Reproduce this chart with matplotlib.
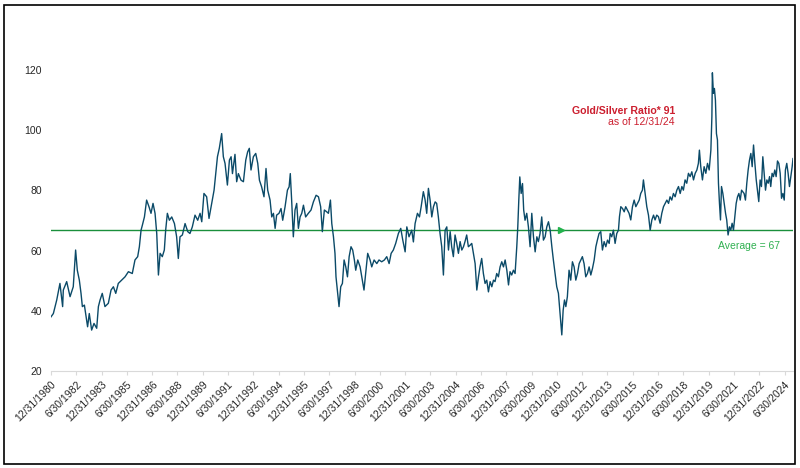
import matplotlib
matplotlib.use("Agg")
import matplotlib.pyplot as plt
import numpy as np
import pandas as pd
from matplotlib.patches import Rectangle

# ---- data (decimal year, gold/silver ratio) ----
years_1980s = [1981.00, 1981.14, 1981.34, 1981.53, 1981.69, 1981.73, 1981.93, 1982.13, 1982.32, 1982.46,
               1982.56, 1982.68, 1982.78, 1982.86, 1982.98, 1983.08, 1983.17, 1983.27, 1983.41, 1983.55,
               1983.71, 1983.81, 1983.91, 1984.04, 1984.20, 1984.40, 1984.56, 1984.70, 1984.84, 1984.99,
               1985.19, 1985.39, 1985.59, 1985.82, 1985.98, 1986.14, 1986.24, 1986.34, 1986.42, 1986.54,
               1986.67, 1986.81, 1986.93, 1987.05, 1987.17, 1987.27, 1987.37, 1987.47, 1987.60, 1987.72,
               1987.80, 1987.90, 1988.02, 1988.16, 1988.32, 1988.45, 1988.55, 1988.65, 1988.79, 1988.95,
               1989.11, 1989.24, 1989.38, 1989.54, 1989.70, 1989.84, 1989.94, 1990.07, 1990.23, 1990.37,
               1990.53, 1990.67, 1990.77, 1990.87, 1990.98, 1991.12, 1991.22, 1991.32, 1991.46, 1991.58,
               1991.68, 1991.76]
ratio_1980s = [38.0, 39.1, 43.6, 49.1, 41.4, 46.9, 49.7, 44.7, 48.0, 60.2,
               53.5, 50.2, 45.8, 41.4, 41.9, 38.0, 34.7, 39.1, 33.6, 35.8,
               34.2, 41.4, 43.6, 45.8, 41.4, 42.5, 46.9, 48.0, 45.8, 49.1,
               50.2, 51.3, 53.0, 52.4, 56.9, 58.0, 61.3, 66.8, 68.5, 71.2,
               76.8, 74.6, 72.4, 75.7, 72.4, 65.7, 51.9, 59.1, 58.0, 60.2,
               66.8, 72.4, 70.1, 71.2, 69.0, 64.6, 57.4, 64.6, 65.2, 69.0,
               66.3, 65.7, 67.9, 71.8, 70.1, 72.4, 69.6, 79.0, 77.9, 70.7,
               75.7, 80.1, 85.6, 91.2, 94.0, 98.9, 91.2, 89.0, 81.8, 90.1,
               91.2, 85.6]

years_1990s = [1991.91, 1992.01, 1992.11, 1992.27, 1992.41, 1992.55, 1992.66, 1992.76, 1992.86, 1993.00,
               1993.14, 1993.26, 1993.36, 1993.49, 1993.63, 1993.75, 1993.85, 1993.99, 1994.09, 1994.19,
               1994.29, 1994.38, 1994.52, 1994.64, 1994.74, 1994.88, 1995.02, 1995.12, 1995.19, 1995.27,
               1995.37, 1995.47, 1995.57, 1995.67, 1995.77, 1995.87, 1995.97, 1996.10, 1996.26, 1996.42,
               1996.56, 1996.72, 1996.86, 1996.99, 1997.09, 1997.21, 1997.35, 1997.45, 1997.57, 1997.65,
               1997.75, 1997.84, 1997.90, 1997.98, 1998.08, 1998.18, 1998.28, 1998.38, 1998.48, 1998.58,
               1998.68, 1998.79, 1998.89, 1998.99, 1999.07, 1999.19, 1999.33, 1999.43, 1999.56, 1999.66,
               1999.78, 1999.92, 2000.02, 2000.16, 2000.32, 2000.45, 2000.61, 2000.77, 2000.91, 2001.05,
               2001.17, 2001.30, 2001.44, 2001.60, 2001.74, 2001.86, 2002.00, 2002.10, 2002.23, 2002.39,
               2002.49, 2002.59, 2002.73, 2002.85, 2002.95, 2003.08]
ratio_1990s = [92.0, 82.9, 85.6, 83.4, 82.9, 90.1, 92.8, 94.0, 86.8, 91.2,
               92.3, 89.0, 83.4, 81.2, 77.9, 87.3, 80.1, 76.8, 71.2, 72.4,
               67.4, 71.8, 72.4, 74.0, 70.1, 74.6, 80.1, 81.2, 85.6, 76.8,
               64.6, 73.5, 75.7, 67.4, 71.2, 72.4, 75.1, 71.2, 72.4, 73.5,
               76.2, 78.4, 77.9, 74.6, 66.3, 73.5, 72.9, 72.4, 76.8, 69.0,
               64.6, 59.1, 51.3, 46.9, 41.4, 48.0, 49.1, 56.9, 54.6, 51.3,
               58.0, 61.3, 60.2, 56.9, 53.5, 56.9, 54.6, 51.3, 46.9, 52.4,
               59.1, 56.9, 54.6, 56.9, 55.7, 56.9, 56.3, 56.9, 58.0, 55.7,
               59.1, 60.2, 62.4, 65.7, 67.4, 63.5, 59.6, 67.9, 64.6, 66.8,
               62.9, 69.0, 72.4, 71.2, 74.6, 79.6]

years_2000s = [2003.18, 2003.28, 2003.38, 2003.48, 2003.58, 2003.68, 2003.78, 2003.87, 2003.97, 2004.07,
               2004.17, 2004.27, 2004.37, 2004.47, 2004.57, 2004.67, 2004.76, 2004.86, 2004.96, 2005.06,
               2005.16, 2005.26, 2005.36, 2005.46, 2005.55, 2005.65, 2005.75, 2005.85, 2005.95, 2006.05,
               2006.15, 2006.25, 2006.35, 2006.44, 2006.54, 2006.64, 2006.74, 2006.84, 2006.94, 2007.04,
               2007.14, 2007.24, 2007.33, 2007.43, 2007.53, 2007.63, 2007.73, 2007.83, 2007.93, 2008.03,
               2008.13, 2008.22, 2008.32, 2008.42, 2008.52, 2008.62, 2008.68, 2008.74, 2008.80, 2008.88,
               2008.96, 2009.03, 2009.11, 2009.21, 2009.31, 2009.41, 2009.51, 2009.61, 2009.71, 2009.81,
               2009.90, 2010.00, 2010.10, 2010.20, 2010.30, 2010.40, 2010.50, 2010.60, 2010.70, 2010.79,
               2010.89, 2010.99, 2011.09, 2011.19, 2011.29, 2011.37, 2011.45, 2011.53, 2011.62, 2011.72,
               2011.82, 2011.92, 2012.02, 2012.12, 2012.22, 2012.32, 2012.42, 2012.51, 2012.61, 2012.71,
               2012.81, 2012.91, 2013.01, 2013.11, 2013.21, 2013.31, 2013.40, 2013.50, 2013.60, 2013.70,
               2013.80, 2013.90, 2014.00, 2014.10]
ratio_2000s = [77.0, 72.4, 80.7, 76.8, 71.2, 74.6, 76.2, 75.7, 71.2, 65.7,
               61.3, 51.9, 66.8, 67.9, 60.2, 66.3, 61.3, 58.0, 65.2, 62.4,
               59.1, 63.0, 60.2, 61.3, 63.0, 65.2, 61.3, 61.8, 62.4, 59.1,
               55.7, 46.9, 51.3, 54.6, 57.4, 52.4, 49.1, 50.2, 46.3, 49.7,
               48.0, 50.2, 49.7, 52.4, 51.3, 54.6, 56.3, 54.6, 56.9, 53.5,
               48.6, 53.0, 51.9, 53.5, 52.4, 61.3, 67.9, 76.8, 84.5, 79.0,
               82.3, 73.5, 70.1, 72.4, 67.9, 61.3, 72.4, 64.6, 59.6, 64.6,
               63.0, 65.7, 71.2, 63.5, 64.6, 67.9, 69.6, 66.8, 61.3, 56.9,
               52.4, 48.0, 45.8, 39.1, 32.0, 40.2, 43.6, 41.4, 44.7, 53.5,
               50.2, 56.3, 54.6, 50.2, 52.4, 55.7, 56.9, 58.0, 55.7, 51.3,
               52.4, 54.6, 51.9, 54.1, 56.9, 61.3, 63.5, 65.7, 66.3, 60.2,
               63.0, 61.3, 63.5, 62.4]

years_2010s = [2014.16, 2014.25, 2014.35, 2014.45, 2014.55, 2014.65, 2014.71, 2014.79, 2014.89, 2014.99,
               2015.08, 2015.18, 2015.28, 2015.38, 2015.48, 2015.58, 2015.68, 2015.78, 2015.88, 2015.97,
               2016.07, 2016.13, 2016.23, 2016.33, 2016.43, 2016.53, 2016.63, 2016.73, 2016.82, 2016.92,
               2017.02, 2017.12, 2017.22, 2017.32, 2017.42, 2017.52, 2017.62, 2017.71, 2017.81, 2017.91,
               2018.01, 2018.11, 2018.21, 2018.31, 2018.41, 2018.50, 2018.60, 2018.70, 2018.80, 2018.90,
               2019.00, 2019.10, 2019.20, 2019.30, 2019.39, 2019.45, 2019.53, 2019.63, 2019.73, 2019.83,
               2019.93, 2020.03, 2020.13, 2020.19, 2020.22, 2020.28, 2020.34, 2020.40, 2020.46, 2020.52,
               2020.58, 2020.64, 2020.70, 2020.76, 2020.84, 2020.92, 2021.00, 2021.07, 2021.15, 2021.23,
               2021.31, 2021.39, 2021.47, 2021.55, 2021.63, 2021.71, 2021.79, 2021.87, 2021.95, 2022.02,
               2022.10, 2022.18, 2022.26, 2022.34, 2022.42, 2022.50, 2022.58, 2022.66, 2022.74, 2022.82,
               2022.89, 2022.97, 2023.05, 2023.13, 2023.21, 2023.29, 2023.37, 2023.45, 2023.53, 2023.61,
               2023.68, 2023.76, 2023.84, 2023.92, 2024.00, 2024.08, 2024.16, 2024.24, 2024.32, 2024.40,
               2024.48, 2024.55, 2024.63, 2024.71, 2024.79, 2024.87, 2024.95, 2025.00]
ratio_2010s = [65.7, 64.6, 66.8, 62.4, 65.7, 66.8, 71.3, 74.6, 74.0, 72.9,
               74.6, 73.5, 72.4, 70.2, 74.6, 76.8, 74.6, 75.7, 76.8, 79.0,
               80.1, 83.5, 79.0, 74.6, 71.8, 66.8, 70.2, 71.8, 70.2, 71.8,
               71.3, 69.1, 72.4, 74.6, 75.7, 76.8, 75.7, 77.9, 76.8, 79.0,
               77.9, 80.1, 81.3, 79.0, 81.3, 80.1, 83.5, 82.4, 85.7, 84.6,
               86.2, 83.5, 85.7, 86.8, 89.0, 93.4, 87.9, 83.5, 87.9, 85.7,
               89.0, 86.8, 93.4, 104.5, 119.1, 112.3, 113.9, 110.0, 98.9, 96.8,
               82.4, 75.7, 70.2, 81.3, 79.0, 75.7, 72.4, 70.2, 65.2, 67.9,
               66.8, 69.1, 66.8, 71.3, 75.7, 77.9, 79.0, 76.8, 80.1, 79.6,
               79.0, 76.8, 82.4, 86.8, 90.1, 92.3, 87.9, 95.1, 89.0, 83.5,
               80.1, 76.3, 83.5, 81.3, 91.2, 85.7, 80.1, 83.5, 82.4, 84.6,
               81.3, 85.7, 84.6, 86.8, 84.6, 89.8, 89.0, 85.7, 77.4, 79.0,
               76.8, 86.8, 89.0, 85.7, 81.3, 84.6, 87.9, 90.6]

average_ratio = 67
y_ticks = [20, 40, 60, 80, 100, 120]
x_tick_labels = ["12/31/1980", "6/30/1982", "12/31/1983", "6/30/1985", "12/31/1986", "6/30/1988",
                 "12/31/1989", "6/30/1991", "12/31/1992", "6/30/1994", "12/31/1995", "6/30/1997",
                 "12/31/1998", "6/30/2000", "12/31/2001", "6/30/2003", "12/31/2004", "6/30/2006",
                 "12/31/2007", "6/30/2009", "12/31/2010", "6/30/2012", "12/31/2013", "6/30/2015",
                 "12/31/2016", "6/30/2018", "12/31/2019", "6/30/2021", "12/31/2022", "6/30/2024"]
note_line1 = "Gold/Silver Ratio* 91"
note_line2 = "as of 12/31/24"
avg_label = "Average = 67"

# ---- plotting ----
plt.rcParams['font.family'] = ['Liberation Sans', 'DejaVu Sans']

years = years_1980s + years_1990s + years_2000s + years_2010s
ratio = ratio_1980s + ratio_1990s + ratio_2000s + ratio_2010s

dts = pd.to_datetime(x_tick_labels, format="%m/%d/%Y")
tick_pos = np.asarray(dts.year) + np.asarray(dts.dayofyear) / np.where(dts.is_leap_year, 366.0, 365.0)

fig = plt.figure(figsize=(8, 4.68), dpi=100)
ax = fig.add_axes([51 / 800, 97 / 468, 742 / 800, 331 / 468])

ax.axhline(average_ratio, color='#1a8f3c', lw=1.0, zorder=2)
ax.plot(years, ratio, color='#0b4a68', lw=1.0, zorder=3)
ax.plot([2011.25], [average_ratio], marker='>', color='#22b24c', ms=5, ls='none', zorder=4)

ax.set_xlim(1981.0, 2025.0)
ax.set_ylim(20, 130)
ax.set_yticks(y_ticks)
ax.set_xticks(tick_pos)
ax.set_xticklabels(x_tick_labels, rotation=45, ha='right', rotation_mode='anchor')

for s in ['top', 'right', 'left']:
    ax.spines[s].set_visible(False)
ax.spines['bottom'].set_color('#d9d9d9')
ax.spines['bottom'].set_linewidth(0.8)
ax.tick_params(axis='y', length=0, pad=6.5, labelsize=7.5, labelcolor='#262626')
ax.tick_params(axis='x', length=3, width=0.8, color='#d9d9d9', pad=3, labelsize=7.5, labelcolor='#262626')

ax.text(2018.01, 106.4, note_line1, color='#cc1f2f', fontsize=7.6, fontweight='bold',
        ha='right', va='center')
ax.text(2018.01, 102.7, note_line2, color='#cc1f2f', fontsize=7.6, ha='right', va='center')
ax.text(2024.24, 61.5, avg_label, color='#2fb050', fontsize=7.5, ha='right', va='center')

fig.patches.append(Rectangle((4 / 800, 4 / 468), 791 / 800, 459 / 468, transform=fig.transFigure,
                             fill=False, ec='black', lw=1.2))

fig.savefig("out.png", dpi=100)
